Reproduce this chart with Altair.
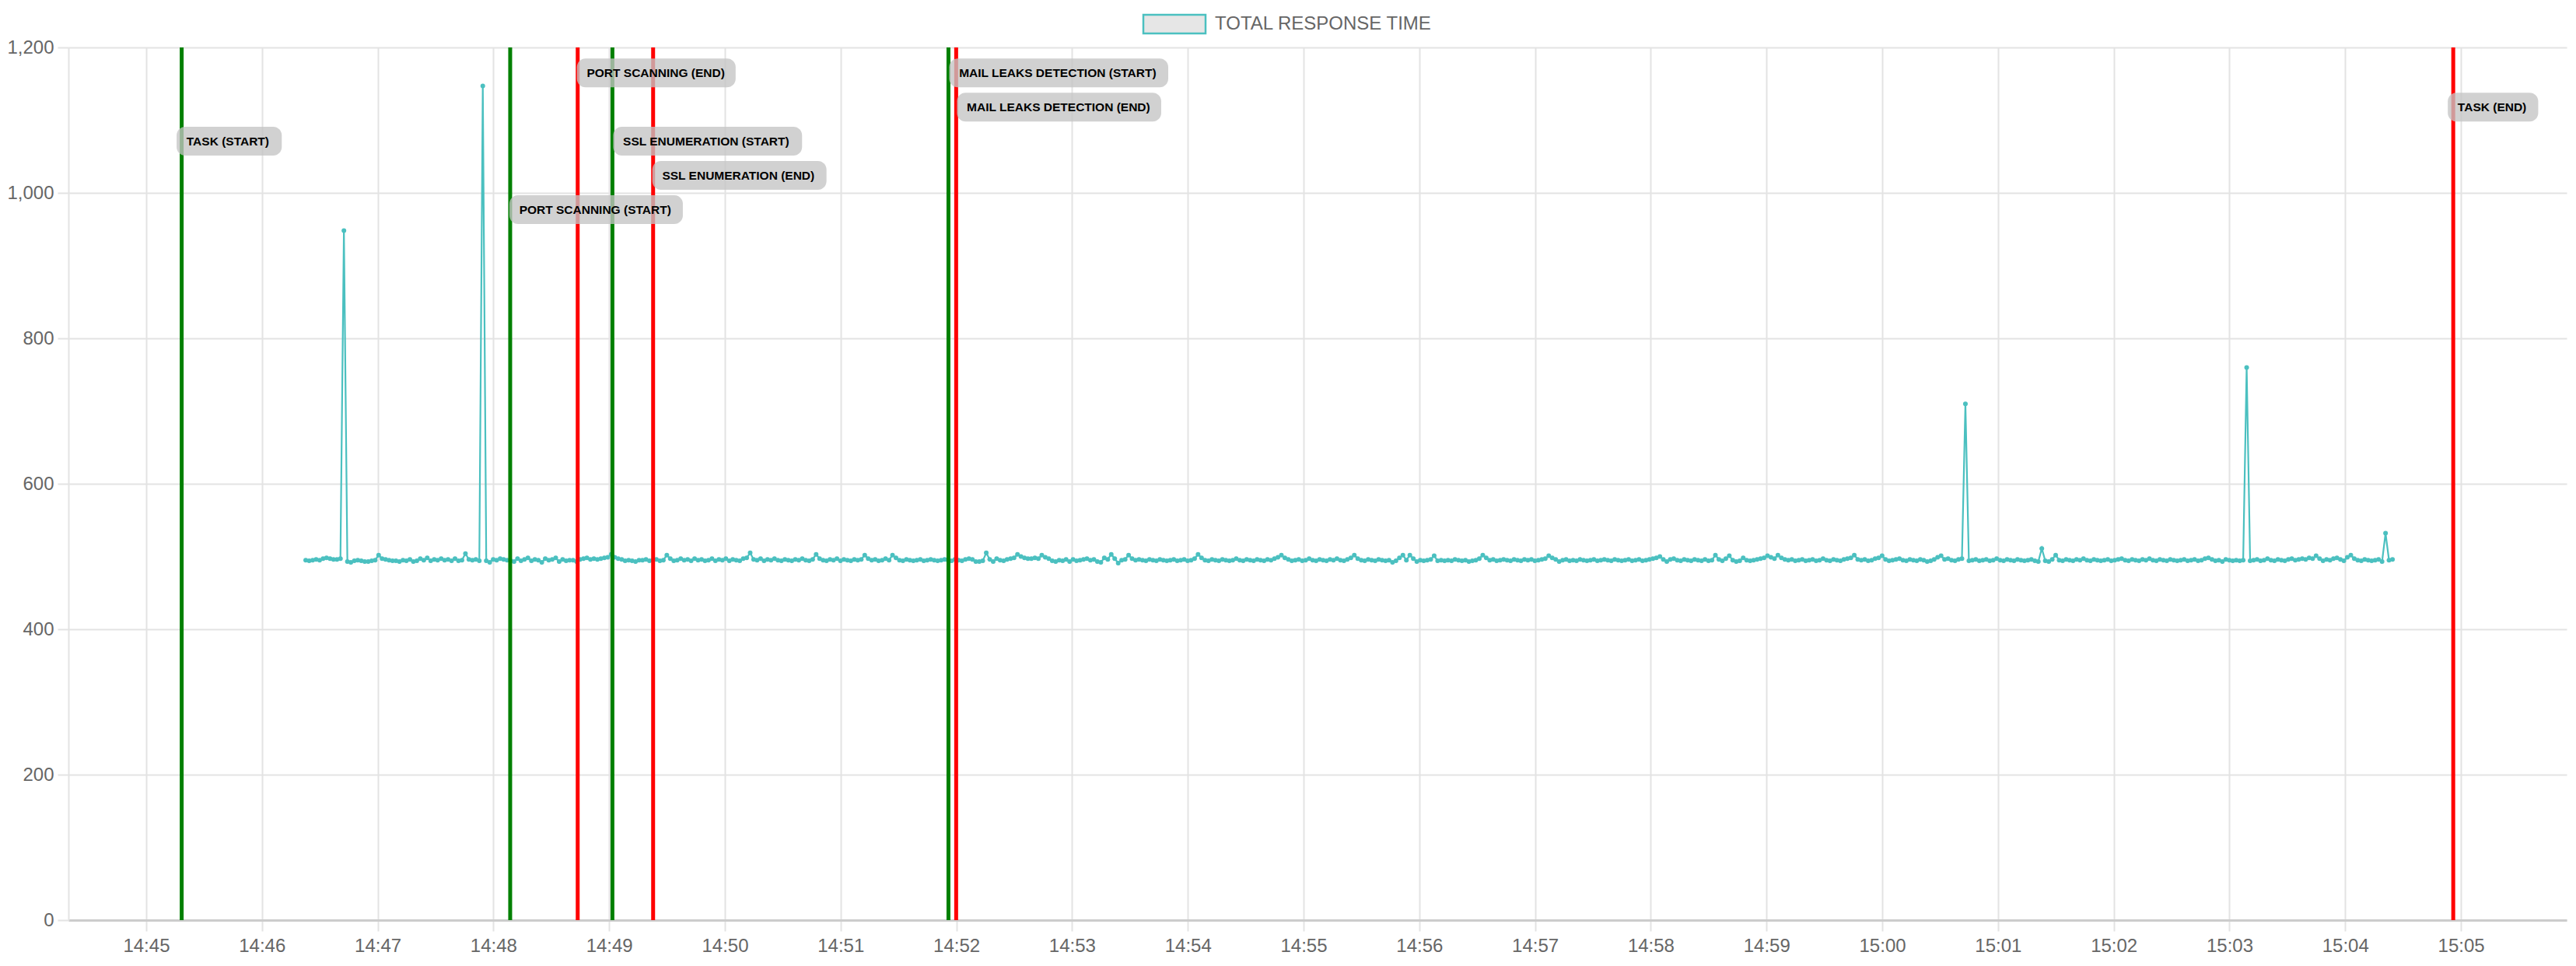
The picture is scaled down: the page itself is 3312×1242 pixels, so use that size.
import altair as alt
import pandas as pd

DAY = "2024-01-01"
SERIES = "TOTAL RESPONSE TIME"
first_sample = "14:46:22.700"
sample_step_s = 1.8

response_ms = [
    495, 494, 495, 496, 495, 497, 498, 497, 496, 496, 497, 948, 493, 492, 494, 495, 494, 493, 493, 494,
    495, 502, 497, 496, 495, 494, 494, 493, 495, 494, 496, 493, 494, 497, 495, 498, 494, 496, 495, 497,
    495, 496, 494, 497, 494, 495, 504, 496, 495, 496, 494, 1147, 494, 492, 496, 495, 497, 496, 495, 494,
    493, 497, 494, 496, 498, 494, 496, 495, 492, 497, 495, 496, 498, 493, 496, 494, 495, 495, 493, 496,
    497, 498, 496, 497, 496, 497, 498, 499, 503, 499, 497, 496, 494, 495, 494, 493, 495, 495, 496, 494,
    495, 496, 494, 495, 502, 497, 494, 495, 497, 495, 496, 494, 497, 495, 496, 494, 495, 497, 494, 496,
    495, 497, 494, 496, 495, 494, 497, 498, 505, 496, 495, 497, 494, 496, 495, 497, 495, 494, 496, 495,
    494, 496, 495, 497, 495, 494, 496, 503, 497, 495, 494, 496, 495, 497, 494, 496, 495, 494, 496, 495,
    496, 502, 497, 495, 496, 494, 495, 497, 495, 502, 498, 495, 494, 496, 495, 494, 495, 496, 494, 495,
    496, 495, 494, 495, 496, 495, 494, 496, 495, 494, 496, 497, 496, 493, 493, 494, 505, 496, 493, 497,
    495, 494, 496, 497, 498, 503, 500, 498, 497, 497, 498, 497, 502, 499, 497, 494, 493, 495, 494, 496,
    493, 496, 494, 495, 496, 497, 495, 496, 493, 492, 498, 496, 503, 497, 491, 495, 496, 502, 497, 495,
    496, 495, 494, 496, 495, 494, 496, 495, 494, 495, 496, 494, 495, 496, 494, 495, 497, 503, 498, 495,
    494, 496, 495, 494, 496, 495, 494, 495, 497, 495, 494, 496, 495, 494, 496, 495, 494, 496, 495, 497,
    499, 502, 498, 496, 494, 495, 496, 494, 495, 497, 495, 494, 496, 495, 494, 496, 495, 497, 495, 494,
    496, 498, 502, 497, 495, 494, 496, 495, 494, 496, 495, 494, 495, 492, 494, 498, 502, 495, 502, 497,
    493, 495, 494, 495, 496, 501, 494, 495, 494, 495, 494, 496, 495, 494, 495, 493, 494, 495, 497, 502,
    498, 495, 496, 494, 495, 496, 495, 494, 496, 495, 494, 496, 495, 496, 494, 495, 496, 497, 501, 498,
    496, 493, 495, 496, 494, 495, 494, 496, 495, 494, 495, 496, 494, 495, 496, 495, 494, 496, 495, 494,
    495, 496, 494, 495, 496, 494, 495, 496, 497, 498, 500, 496, 493, 496, 497, 495, 494, 496, 495, 494,
    496, 495, 494, 496, 494, 495, 502, 496, 494, 497, 501, 495, 493, 494, 498, 495, 494, 495, 496, 497,
    498, 501, 499, 497, 502, 498, 496, 495, 496, 494, 495, 496, 494, 495, 496, 494, 495, 497, 495, 494,
    496, 495, 494, 496, 497, 498, 502, 496, 495, 496, 494, 495, 497, 498, 501, 496, 494, 495, 496, 497,
    495, 494, 496, 495, 494, 496, 495, 493, 494, 496, 499, 501, 496, 497, 495, 494, 496, 497, 710, 494,
    495, 496, 494, 495, 496, 494, 495, 497, 495, 494, 496, 495, 494, 496, 495, 494, 495, 496, 494, 493,
    511, 494, 493, 496, 502, 495, 494, 496, 495, 494, 496, 495, 497, 495, 494, 496, 495, 494, 495, 496,
    494, 495, 496, 497, 495, 494, 496, 495, 494, 496, 495, 497, 495, 494, 496, 495, 494, 496, 495, 494,
    495, 496, 494, 495, 496, 494, 495, 497, 498, 496, 494, 495, 493, 496, 495, 494, 495, 494, 495, 760,
    494, 495, 496, 494, 495, 497, 495, 494, 496, 495, 494, 496, 497, 495, 496, 497, 496, 498, 497, 501,
    497, 494, 496, 495, 497, 498, 496, 494, 499, 502, 497, 495, 494, 496, 495, 494, 495, 496, 493, 532,
    495, 496,
]

event_labels = [
    "TASK (START)", "PORT SCANNING (START)", "PORT SCANNING (END)",
    "SSL ENUMERATION (START)", "SSL ENUMERATION (END)",
    "MAIL LEAKS DETECTION (START)", "MAIL LEAKS DETECTION (END)", "TASK (END)",
]
event_times = [
    "14:45:18.400", "14:48:08.700", "14:48:43.700", "14:49:01.700",
    "14:49:22.800", "14:51:55.900", "14:51:59.900", "15:04:56.000",
]
event_kinds = ["start", "start", "end", "start", "end", "start", "end", "end"]
label_levels = [1071, 977, 1165, 1071, 1024, 1165, 1118, 1118]

y_ticks = [0, 200, 400, 600, 800, 1000, 1200]
x_tick_minutes = ["14:45", "14:46", "14:47", "14:48", "14:49", "14:50", "14:51", "14:52",
                  "14:53", "14:54", "14:55", "14:56", "14:57", "14:58", "14:59", "15:00",
                  "15:01", "15:02", "15:03", "15:04", "15:05"]
x_domain = ("14:44:19.700", "15:05:54.800")

# ---- layout / style constants ----
PLOT_W, PLOT_H = 3212, 1122
Y_MAX = 1200
FONT = "Liberation Sans"
TEAL = "#4bc0c0"
LEGEND_FILL = "#e6e6e6"
GRID = "#e3e3e3"
LABEL_FS = 15.5
BOX_HALF_PX = 18.5
BOX_PAD_L, BOX_PAD_R = 12.7, 14
# horizontal shift (px) of each label box's left edge relative to its event line
label_shift_px = [-6.5, -1, -1, 1, -1, 1, 1, -7]

# Arial/Liberation bold advance widths (per em) used to size label boxes
_bold_w = {" ": .278, "(": .333, ")": .333, "A": .722, "B": .722, "C": .722, "D": .722,
           "E": .667, "F": .611, "G": .778, "H": .722, "I": .278, "J": .556, "K": .722,
           "L": .611, "M": .833, "N": .722, "O": .778, "P": .667, "Q": .778, "R": .722,
           "S": .667, "T": .611, "U": .722, "V": .667, "W": .944, "X": .667, "Y": .667}


def ts(t):
    return pd.Timestamp(f"{DAY} {t}")


def iso(t):
    return t.strftime("%Y-%m-%dT%H:%M:%S.%f")[:-3]


def dt(t):
    t = ts(t)
    return alt.DateTime(year=int(t.year), month=int(t.month), date=int(t.day),
                        hours=int(t.hour), minutes=int(t.minute), seconds=int(t.second),
                        milliseconds=int(t.microsecond // 1000))


t0 = ts(first_sample)
times = [t0 + pd.Timedelta(milliseconds=int(round(sample_step_s * 1000 * i)))
         for i in range(len(response_ms))]
line_df = pd.DataFrame({
    "time": [iso(t) for t in times],
    "value": response_ms,
    "series": [SERIES] * len(response_ms),
})

dom_ms = (ts(x_domain[1]) - ts(x_domain[0])).total_seconds() * 1000.0
ms_per_px = dom_ms / PLOT_W
units_per_px = Y_MAX / PLOT_H


def px_ms(px):
    return pd.Timedelta(milliseconds=int(round(px * ms_per_px)))


ev_rows = []
for lab, t, k, lv, sh in zip(event_labels, event_times, event_kinds, label_levels, label_shift_px):
    tt = ts(t)
    text_w = sum(_bold_w.get(c, .667) for c in lab) * LABEL_FS
    ev_rows.append({
        "label": lab,
        "time": iso(tt),
        "kind": k,
        "level": float(lv),
        "text_start": iso(tt + px_ms(sh + BOX_PAD_L)),
        "box_start": iso(tt + px_ms(sh)),
        "box_end": iso(tt + px_ms(sh + BOX_PAD_L + text_w + BOX_PAD_R)),
        "box_top": float(lv + BOX_HALF_PX * units_per_px),
        "box_bottom": float(lv - BOX_HALF_PX * units_per_px),
    })
ev_df = pd.DataFrame(ev_rows)

x_scale = alt.Scale(domain=[dt(x_domain[0]), dt(x_domain[1])], nice=False)
y_scale = alt.Scale(domain=[0, Y_MAX], nice=False)

x_axis = alt.Axis(
    format="%H:%M", values=[dt(m + ":00.000") for m in x_tick_minutes],
    labelFont=FONT, labelFontSize=24, labelColor="#666666", labelPadding=7,
    labelOverlap=False, labelFlush=False,
    tickSize=14, tickColor=GRID, tickWidth=2,
    gridColor=GRID, gridWidth=2,
    domainColor="#cccccc", domainWidth=3, title=None,
)
y_axis = alt.Axis(
    values=y_ticks, format=",.0f",
    labelFont=FONT, labelFontSize=24, labelColor="#666666", labelPadding=5,
    tickSize=14, tickColor=GRID, tickWidth=2,
    gridColor=GRID, gridWidth=2,
    domainColor=GRID, domainWidth=2, title=None,
)

line = alt.Chart(line_df).mark_line(
    strokeWidth=2.2, color=TEAL,
    point=alt.OverlayMarkDef(filled=True, size=36, color=TEAL),
).encode(
    x=alt.X("time:T", scale=x_scale, axis=x_axis),
    y=alt.Y("value:Q", scale=y_scale, axis=y_axis),
)

legend_def = alt.Legend(
    orient="none", legendX=1380.5, legendY=-71.5, title=None, padding=0,
    symbolType="M-1,-0.3L1,-0.3L1,0.3L-1,0.3Z", symbolSize=6400,
    symbolStrokeWidth=2.5, symbolOpacity=1,
    labelFont=FONT, labelFontSize=24, labelColor="#666666", labelOffset=10.5,
    labelLimit=600,
)

# legend carrier: one sample drawn invisibly, fill + stroke keyed on the series name
legend_layer = alt.Chart(line_df.head(1)).mark_point(opacity=0, strokeWidth=2.5).encode(
    x=alt.X("time:T", scale=x_scale),
    y=alt.Y("value:Q", scale=y_scale),
    fill=alt.Fill("series:N", scale=alt.Scale(domain=[SERIES], range=[LEGEND_FILL]), legend=legend_def),
    stroke=alt.Stroke("series:N", scale=alt.Scale(domain=[SERIES], range=[TEAL]), legend=legend_def),
)

rules = alt.Chart(ev_df).mark_rule(strokeWidth=5).encode(
    x=alt.X("time:T", scale=x_scale),
    color=alt.Color("kind:N", scale=alt.Scale(domain=["start", "end"], range=["#008000", "#ff0000"]),
                    legend=None),
)

boxes = alt.Chart(ev_df).mark_rect(cornerRadius=11, color="#c4c4c4", opacity=0.78).encode(
    x=alt.X("box_start:T", scale=x_scale),
    x2="box_end:T",
    y=alt.Y("box_top:Q", scale=y_scale),
    y2="box_bottom:Q",
)

texts = alt.Chart(ev_df).mark_text(
    align="left", baseline="middle", font=FONT, fontSize=LABEL_FS,
    fontWeight="bold", color="#000000",
).encode(
    x=alt.X("text_start:T", scale=x_scale),
    y=alt.Y("level:Q", scale=y_scale),
    text="label:N",
)

chart = alt.layer(line, legend_layer, rules, boxes, texts).properties(
    width=PLOT_W, height=PLOT_H,
    autosize=alt.AutoSizeParams(type="none"),
    padding={"left": 80, "top": 53, "right": 4, "bottom": 46},
).configure_view(strokeWidth=0)

chart.save("out.html", embed_options={"renderer": "svg", "actions": False})
